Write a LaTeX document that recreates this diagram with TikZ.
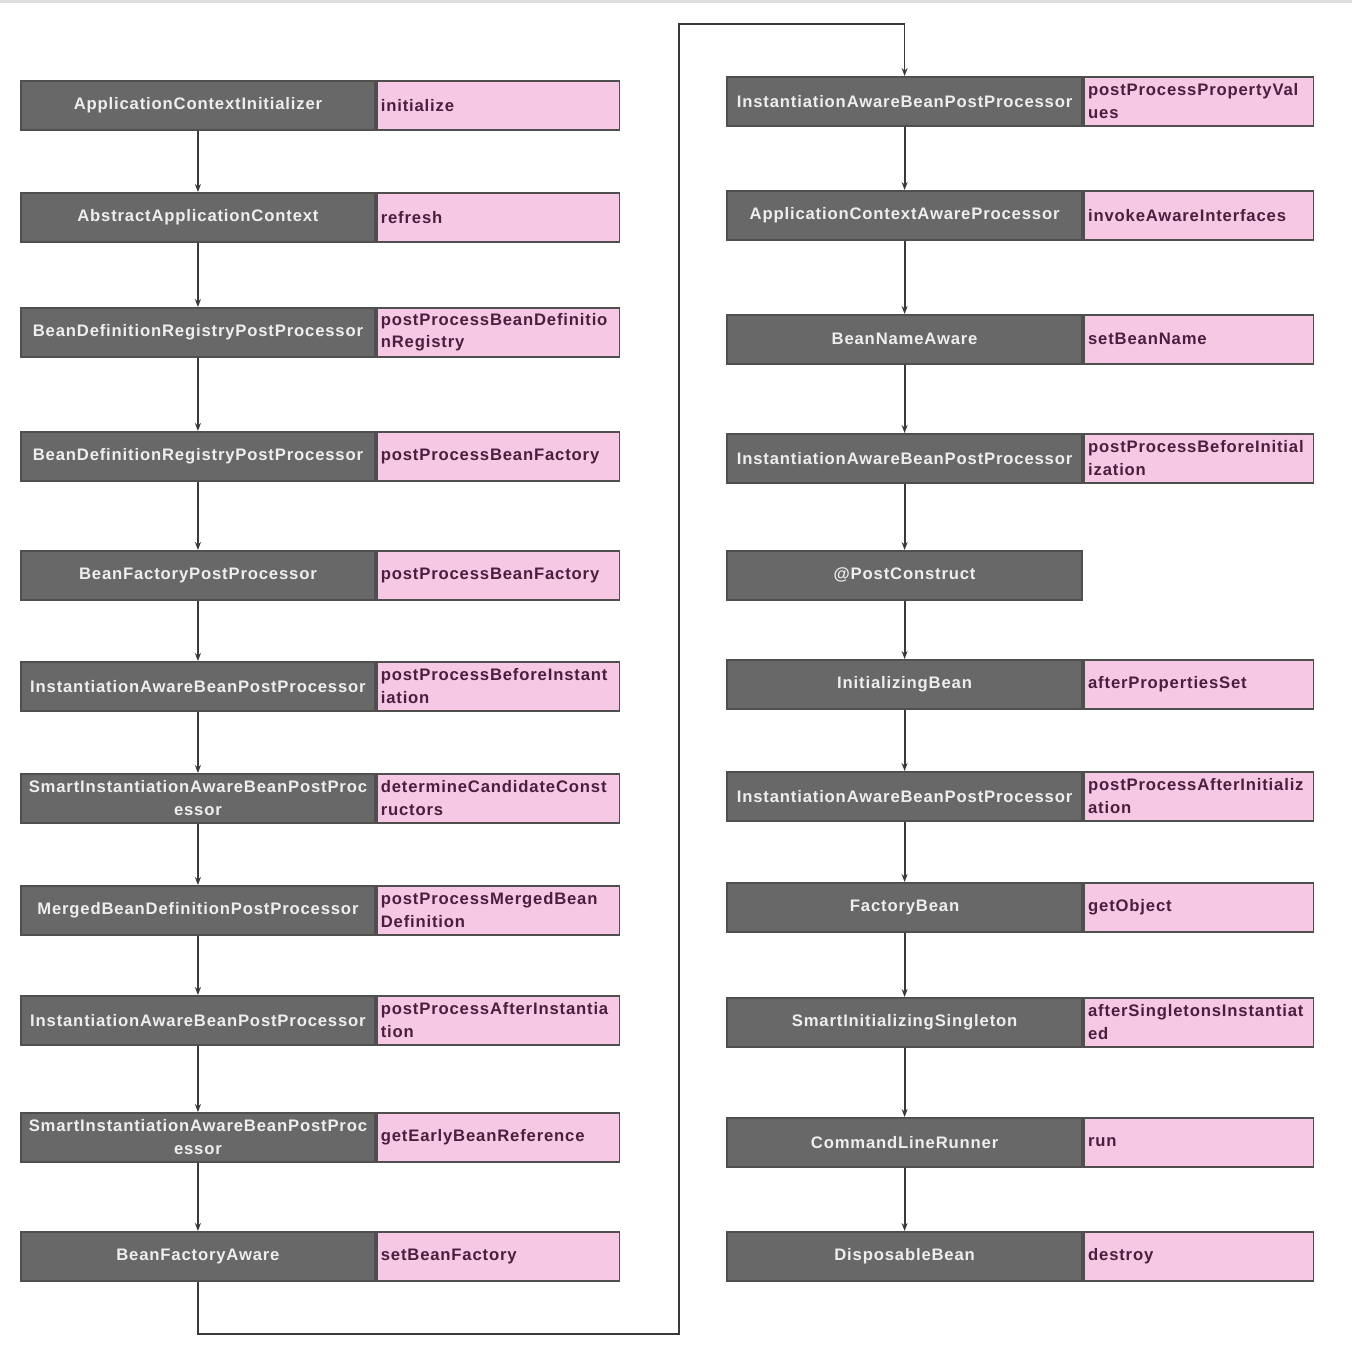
\documentclass[tikz,border=0pt]{standalone}
\usepackage{fontspec}
\setmainfont{Liberation Sans}
\newfontfamily\boxfont[LetterSpace=5]{Liberation Sans}
\usetikzlibrary{arrows.meta}
\definecolor{clsfill}{HTML}{686868}
\definecolor{clsedge}{HTML}{4F4F4F}
\definecolor{clstext}{HTML}{EEEEEE}
\definecolor{mthfill}{HTML}{F6C8E4}
\definecolor{mthtext}{HTML}{4A1E3E}
\definecolor{flow}{HTML}{3A3A3A}
\tikzset{
  clsbox/.style={draw=clsedge, line width=1.4pt, fill=clsfill, text=clstext,
    font=\boxfont\bfseries\fontsize{12.5}{17}\selectfont, align=center, inner sep=0pt,
    minimum height=36.5pt, anchor=north west},
  lclass/.style={clsbox, minimum width=265.5pt, text width=264pt},
  rclass/.style={clsbox, minimum width=266.5pt, text width=264pt},
  mthbox/.style={draw=clsedge, line width=1.4pt, fill=mthfill, text=mthtext,
    font=\boxfont\bfseries\fontsize{12.5}{17}\selectfont, align=left, inner xsep=3pt, inner ysep=0pt,
    minimum height=36.5pt, anchor=west},
  lmethod/.style={mthbox, minimum width=181.5pt, text width=176pt},
  rmethod/.style={mthbox, minimum width=171pt, text width=166pt},
  flowarrow/.style={draw=flow, line width=1.5pt, -{Stealth[length=6pt,width=4.5pt]}},
  flowline/.style={draw=flow, line width=1.3pt}
}
\begin{document}
\begin{tikzpicture}[x=0.75pt,y=-0.75pt]
\useasboundingbox (0,0) rectangle (1352,1356);
\fill[white] (0,0) rectangle (1352,1356);
\fill[black!13] (0,0) rectangle (1352,3);

% left column: container start-up and bean instantiation
\node[lclass] (l1) at (20,80) {ApplicationContextInitializer};
\node[lmethod] (m1) at (l1.east) {initialize};
\node[lclass] (l2) at (20,192) {AbstractApplicationContext};
\node[lmethod] (m2) at (l2.east) {refresh};
\node[lclass] (l3) at (20,307) {BeanDefinitionRegistryPostProcessor};
\node[lmethod] (m3) at (l3.east) {postProcessBeanDefinitio\\nRegistry};
\node[lclass] (l4) at (20,431) {BeanDefinitionRegistryPostProcessor};
\node[lmethod] (m4) at (l4.east) {postProcessBeanFactory};
\node[lclass] (l5) at (20,550) {BeanFactoryPostProcessor};
\node[lmethod] (m5) at (l5.east) {postProcessBeanFactory};
\node[lclass] (l6) at (20,661) {InstantiationAwareBeanPostProcessor};
\node[lmethod] (m6) at (l6.east) {postProcessBeforeInstant\\iation};
\node[lclass] (l7) at (20,773) {SmartInstantiationAwareBeanPostProc\\essor};
\node[lmethod] (m7) at (l7.east) {determineCandidateConst\\ructors};
\node[lclass] (l8) at (20,885) {MergedBeanDefinitionPostProcessor};
\node[lmethod] (m8) at (l8.east) {postProcessMergedBean\\Definition};
\node[lclass] (l9) at (20,995) {InstantiationAwareBeanPostProcessor};
\node[lmethod] (m9) at (l9.east) {postProcessAfterInstantia\\tion};
\node[lclass] (l10) at (20,1112) {SmartInstantiationAwareBeanPostProc\\essor};
\node[lmethod] (m10) at (l10.east) {getEarlyBeanReference};
\node[lclass] (l11) at (20,1231) {BeanFactoryAware};
\node[lmethod] (m11) at (l11.east) {setBeanFactory};

% right column: bean initialisation and shutdown
\node[rclass] (r1) at (726,76) {InstantiationAwareBeanPostProcessor};
\node[rmethod] (n1) at (r1.east) {postProcessPropertyVal\\ues};
\node[rclass] (r2) at (726,190) {ApplicationContextAwareProcessor};
\node[rmethod] (n2) at (r2.east) {invokeAwareInterfaces};
\node[rclass] (r3) at (726,314) {BeanNameAware};
\node[rmethod] (n3) at (r3.east) {setBeanName};
\node[rclass] (r4) at (726,433) {InstantiationAwareBeanPostProcessor};
\node[rmethod] (n4) at (r4.east) {postProcessBeforeInitial\\ization};
\node[rclass] (r5) at (726,550) {@PostConstruct};
\node[rclass] (r6) at (726,659) {InitializingBean};
\node[rmethod] (n6) at (r6.east) {afterPropertiesSet};
\node[rclass] (r7) at (726,771) {InstantiationAwareBeanPostProcessor};
\node[rmethod] (n7) at (r7.east) {postProcessAfterInitializ\\ation};
\node[rclass] (r8) at (726,882) {FactoryBean};
\node[rmethod] (n8) at (r8.east) {getObject};
\node[rclass] (r9) at (726,997) {SmartInitializingSingleton};
\node[rmethod] (n9) at (r9.east) {afterSingletonsInstantiat\\ed};
\node[rclass] (r10) at (726,1117) {CommandLineRunner};
\node[rmethod] (n10) at (r10.east) {run};
\node[rclass] (r11) at (726,1231) {DisposableBean};
\node[rmethod] (n11) at (r11.east) {destroy};

% flow inside each column
\foreach \a/\b in {l1/l2,l2/l3,l3/l4,l4/l5,l5/l6,l6/l7,l7/l8,l8/l9,l9/l10,l10/l11,
                   r1/r2,r2/r3,r3/r4,r4/r5,r5/r6,r6/r7,r7/r8,r8/r9,r9/r10,r10/r11}
  \draw[flowarrow] (\a.south) -- (\b.north);

% hand-over from the left column to the right column
\coordinate (turnA) at (l11.south |- 0,1334);
\coordinate (turnB) at (679,1334);
\coordinate (turnC) at (679,24);
\coordinate (turnD) at (r1.north |- 0,24);
\draw[flowline, -{Stealth[length=6pt,width=4.5pt]}]
  (l11.south) -- (turnA) -- (turnB) -- (turnC) -- (turnD) -- (r1.north);
\end{tikzpicture}
\end{document}
